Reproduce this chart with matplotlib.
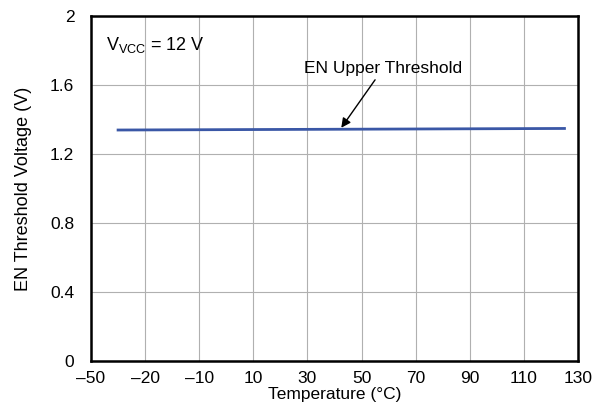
import matplotlib
matplotlib.use("Agg")
import matplotlib.pyplot as plt

plt.rcParams['font.family'] = ['Liberation Sans', 'DejaVu Sans']

temperature = [-40, 125]
en_upper = [1.339, 1.348]
xticks = [-50, -30, -10, 10, 30, 50, 70, 90, 110, 130]
xtick_labels = ["\u201350", "\u201320", "\u201310", "10", "30", "50", "70", "90", "110", "130"]
yticks = [0, 0.4, 0.8, 1.2, 1.6, 2]
ytick_labels = ["0", "0.4", "0.8", "1.2", "1.6", "2"]

fs = 12.5
fig = plt.figure(figsize=(5.93, 4.08), dpi=100)
ax = fig.add_axes([0.1535, 0.1152, 0.8212, 0.8456])
ax.plot(temperature, en_upper, color="#3a57a6", lw=2, zorder=3)
ax.set_xlim(-50, 130)
ax.set_ylim(0, 2)
ax.set_xticks(xticks)
ax.set_xticklabels(xtick_labels)
ax.set_yticks(yticks)
ax.set_yticklabels(ytick_labels)
ax.tick_params(axis='x', length=0, labelsize=fs, pad=7)
ax.tick_params(axis='y', length=0, labelsize=fs, pad=12)
ax.grid(True, color="#b0b0b0", lw=0.8)
for s in ax.spines.values():
    s.set_linewidth(1.8)
ax.set_xlabel("Temperature (\u00b0C)", fontsize=fs, labelpad=1)
ax.set_ylabel("EN Threshold Voltage (V)", fontsize=13, labelpad=13)
ax.text(0.03, 0.915, r"V$_{\mathregular{VCC}}$ = 12 V", transform=ax.transAxes,
        fontsize=fs + 0.5, va="center", ha="left")
ax.text(58, 1.694, "EN Upper Threshold", ha="center", va="center", fontsize=fs)
ax.annotate("", xy=(42.5, 1.352), xytext=(55, 1.63),
            arrowprops=dict(arrowstyle="-|>", color="black", lw=1, shrinkA=0, shrinkB=0,
                            mutation_scale=14))
fig.savefig("out.png", dpi=100)
